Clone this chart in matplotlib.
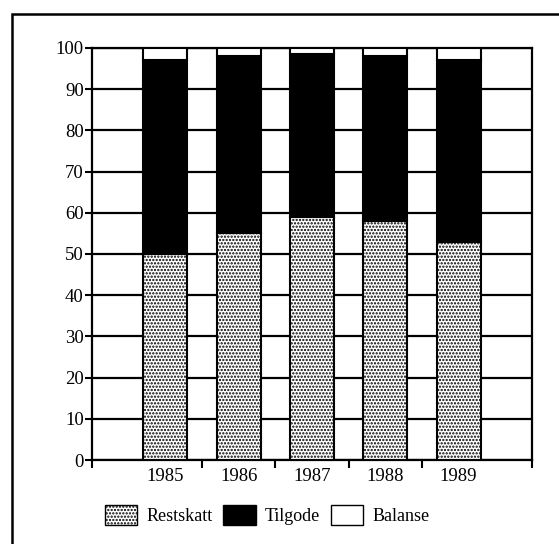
import numpy as np
import matplotlib.pyplot as plt
from matplotlib.patches import Rectangle, Patch

years = ['1985', '1986', '1987', '1988', '1989']
restskatt = [50, 55, 59, 58, 53]
tilgode = [47, 43, 39.5, 40, 44]
balanse = [3, 2, 1.5, 2, 3]

plt.rcParams['font.family'] = 'Liberation Serif'
plt.rcParams['hatch.linewidth'] = 1.1
plt.rcParams['hatch.color'] = 'black'

fig = plt.figure(figsize=(5.59, 5.44), dpi=100)
ax = fig.add_axes([0.1646, 0.1544, 0.787, 0.7574])

x = np.arange(1, len(years) + 1)
r = np.array(restskatt)
t = np.array(tilgode)
b = np.array(balanse)

dots = '.....'
ax.bar(x, r, width=0.6, color='white', edgecolor='black', hatch=dots, linewidth=1.5, zorder=3)
ax.bar(x, t, width=0.6, bottom=r, color='black', edgecolor='black', linewidth=1.5, zorder=3)
ax.bar(x, b, width=0.6, bottom=r + t, color='white', edgecolor='black', linewidth=1.5, zorder=3)

ax.set_xlim(0, 6)
ax.set_ylim(0, 100)
ax.set_yticks(range(0, 101, 10))
ax.yaxis.grid(True, color='black', linewidth=1.6, zorder=1)
ax.set_axisbelow(True)

# tick marks between categories, labels at bar centres
ax.set_xticks([0, 1.5, 2.5, 3.5, 4.5, 6])
ax.set_xticklabels([])
ax.set_xticks(x, minor=True)
ax.set_xticklabels(years, minor=True)
ax.tick_params(axis='x', which='major', direction='out', length=6, width=1.5)
ax.tick_params(axis='x', which='minor', length=0, pad=6, labelsize=13.5)
ax.tick_params(axis='y', direction='out', length=5, width=1.5, pad=1, labelsize=13.5)

for s in ax.spines.values():
    s.set_linewidth(1.6)

handles = [Patch(facecolor='white', edgecolor='black', hatch=dots, label='Restskatt'),
           Patch(facecolor='black', edgecolor='black', label='Tilgode'),
           Patch(facecolor='white', edgecolor='black', label='Balanse')]
fig.legend(handles=handles, loc='center', bbox_to_anchor=(0.478, 0.053), ncol=3,
           frameon=False, fontsize=13, handlelength=1.8, handleheight=1.3,
           columnspacing=0.6, handletextpad=0.5)

# outer frame, running off the right and bottom edges
frame = Rectangle((12 / 559, -0.1), 1.2, 1 - 14 / 544 + 0.1, transform=fig.transFigure,
                  fill=False, edgecolor='black', linewidth=1.8, clip_on=False)
fig.patches.append(frame)

fig.savefig('out.png', dpi=100)
